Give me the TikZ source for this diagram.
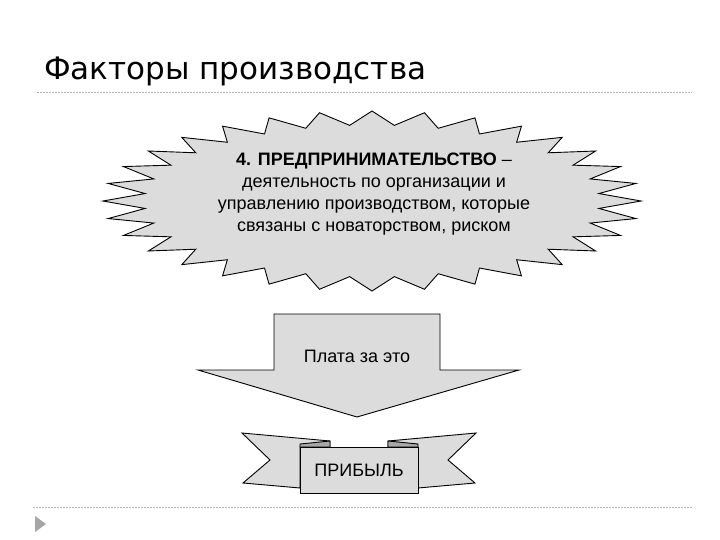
\documentclass[tikz,border=0pt]{standalone}
\usepackage{fontspec}
\setmainfont{Liberation Sans}
\newfontfamily\titlefont{DejaVu Sans}
\definecolor{shapefill}{HTML}{DCDCDC}
\definecolor{folddark}{HTML}{A8A8A8}
\definecolor{rulegray}{HTML}{B4B4B4}
\definecolor{bulletgray}{HTML}{A6A6A6}
\begin{document}
\begin{tikzpicture}[x=1pt,y=-1pt,
  shapeline/.style={draw=black, line width=0.9pt, fill=shapefill, line join=miter},
  bodytext/.style={font=\fontsize{18}{22}\selectfont, align=center, inner sep=0pt},
  rulestyle/.style={draw=rulegray, line width=0.8pt, dash pattern=on 2pt off 1pt}]
\useasboundingbox[fill=white] (0,0) rectangle (720,540);
% title
\node[anchor=base west, inner sep=0pt, font=\titlefont\fontsize{31}{36}\selectfont] (title) at (44,80) {Факторы производства};
\coordinate (r1a) at (37,92);
\coordinate (r1b) at (692,92);
\draw[rulestyle] (r1a) -- (r1b);
\coordinate (r2a) at (33,507);
\coordinate (r2b) at (692,507);
\draw[rulestyle] (r2a) -- (r2b);
% bullet triangle
\fill[bulletgray] (35,516) -- (46,524) -- (35,532) -- cycle;
% star
\coordinate (starc) at (372,201);
\begin{scope}[shift={(starc)}]
\draw[shapeline] (0:269 and 90)
  \foreach \k in {0,...,31}{ -- ({\k*11.25}:269 and 90) -- ({\k*11.25+5.625}:228 and 76) } -- cycle;
\end{scope}
\node[bodytext] (startext) at (374,194) {\textbf{4. ПРЕДПРИНИМАТЕЛЬСТВО} –\\деятельность по организации и\\управлению производством, которые\\связаны с новаторством, риском};
% arrow
\draw[shapeline] (274,314) -- (440,314) -- (440,370) -- (519,370) -- (357,417) -- (198,370) -- (274,370) -- cycle;
\node[bodytext] (arrowtext) at (357,356) {Плата за это};
% ribbon
\draw[shapeline] (242,433) -- (330,441) -- (330,447) -- (300,447) -- (300,488) -- (243,483) -- (270,460) -- cycle;
\draw[shapeline] (476,433) -- (388,441) -- (388,447) -- (418,447) -- (418,488) -- (475,483) -- (448,460) -- cycle;
\draw[draw=black, line width=0.9pt, fill=folddark] (300,447) -- (300,444) -- (330,441) -- (330,447) -- cycle;
\draw[draw=black, line width=0.9pt, fill=folddark] (418,447) -- (418,444) -- (388,441) -- (388,447) -- cycle;
\draw[shapeline] (300,447) rectangle (418,493);
\node[bodytext] (profit) at (359,470) {ПРИБЫЛЬ};
\end{tikzpicture}
\end{document}
